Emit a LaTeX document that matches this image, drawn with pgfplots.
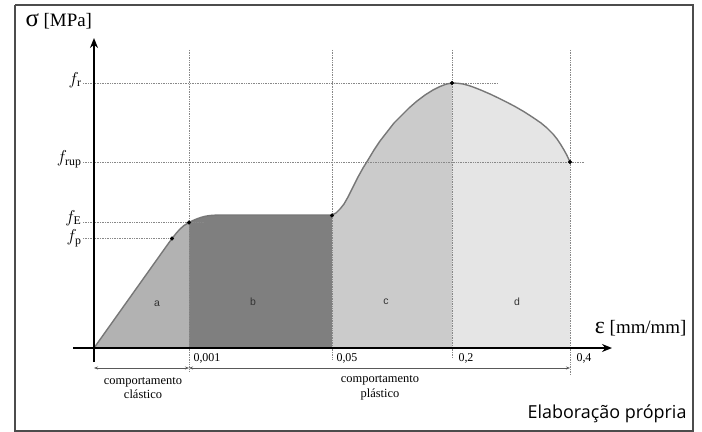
\documentclass[border=0pt]{standalone}
\usepackage{pgfplots}
\pgfplotsset{compat=1.18}
\usepackage{fontspec}
\setmainfont{Liberation Serif}
\newfontfamily\opensans{Open Sans}
\newfontfamily\lsans{Liberation Sans}
\usetikzlibrary{arrows.meta}
\definecolor{ca}{HTML}{B2B2B2}
\definecolor{cb}{HTML}{7F7F7F}
\definecolor{cc}{HTML}{CBCBCB}
\definecolor{cd}{HTML}{E5E5E5}
\definecolor{curve}{HTML}{777777}
\definecolor{dotc}{HTML}{888888}
\begin{document}
\begin{tikzpicture}
\begin{axis}[
  scale only axis, width=702bp, height=432bp,
  xmin=0, xmax=702, ymin=0, ymax=432, y dir=reverse,
  hide axis, clip=false,
]
\path (axis cs:0,0) rectangle (axis cs:702,432);
% frame
\addplot[draw=black!70, line width=1.5bp] coordinates {(15,5) (693,5) (693,431) (15,431) (15,5)};
% fills
\addplot[fill=ca, draw=none] coordinates {(94,348) (168,244) (172,238.5) (176,233.5) (180,229) (184,225.5) (189,222.5) (189,348)} --cycle;
\addplot[fill=cb, draw=none] coordinates {(189,222.5) (193,220.5) (197,218.8) (201,217.4) (205,216.3) (210,215.5) (216,215.1) (222,215) (332,215) (332,348) (189,348)} --cycle;
\addplot[fill=cc, draw=none] coordinates {(332,215) (336,213) (340,209) (344,204) (348,197) (353,187) (358,177) (363,168) (368,160) (374,150) (380,141) (387,132) (394,123) (401,116) (409,108) (417,101) (425,95) (433,90) (440,86.5) (446,84.2) (452,83) (452,348) (332,348)} --cycle;
\addplot[fill=cd, draw=none] coordinates {(452,83) (458,83.3) (463,84) (468,85.3) (473,87) (480,89.7) (490,94) (499,98.3) (507,102.3) (515,106.5) (524,111.7) (533,117.5) (541,123) (547,128) (553,134) (557,139) (561,145) (564,150) (567,155.5) (570,162) (570,348) (452,348)} --cycle;
% dotted guide lines
\addplot[dotc, densely dotted, line width=0.7bp] coordinates {(83,83) (497,83)};
\addplot[dotc, densely dotted, line width=0.7bp] coordinates {(83,162) (585,162)};
\addplot[dotc, densely dotted, line width=0.7bp] coordinates {(83,222.5) (205,222.5)};
\addplot[dotc, densely dotted, line width=0.7bp] coordinates {(83,238.5) (172,238.5)};
\addplot[dotc, densely dotted, line width=0.7bp] coordinates {(189,50) (189,372)};
\addplot[dotc, densely dotted, line width=0.7bp] coordinates {(332,50) (332,360)};
\addplot[dotc, densely dotted, line width=0.7bp] coordinates {(452,50) (452,358)};
\addplot[dotc, densely dotted, line width=0.7bp] coordinates {(570,50) (570,375)};
% curve
\addplot[curve, line width=1.4bp, line join=round] coordinates {(94,348) (168,244) (172,238.5) (176,233.5) (180,229) (184,225.5) (189,222.5) (193,220.5) (197,218.8) (201,217.4) (205,216.3) (210,215.5) (216,215.1) (222,215) (332,215) (336,213) (340,209) (344,204) (348,197) (353,187) (358,177) (363,168) (368,160) (374,150) (380,141) (387,132) (394,123) (401,116) (409,108) (417,101) (425,95) (433,90) (440,86.5) (446,84.2) (452,83) (458,83.3) (463,84) (468,85.3) (473,87) (480,89.7) (490,94) (499,98.3) (507,102.3) (515,106.5) (524,111.7) (533,117.5) (541,123) (547,128) (553,134) (557,139) (561,145) (564,150) (567,155.5) (570,162)};
\addplot[only marks, mark=*, mark size=1.8bp, black] coordinates {(172,238.5) (189,222.5) (332,215.5) (452,83) (570,162)};
% axes
\addplot[black, line width=2.3bp, -{Stealth[length=10bp,width=8bp]}] coordinates {(94,362) (94,38)};
\addplot[black, line width=2.3bp, -{Stealth[length=10bp,width=8bp]}] coordinates {(73,348) (612,348)};
% dimension arrows
\addplot[black!65, line width=0.8bp, {Stealth[length=4bp,width=3bp]}-{Stealth[length=4bp,width=3bp]}] coordinates {(94,368) (189,368)};
\addplot[black!65, line width=0.8bp, {Stealth[length=4bp,width=3bp]}-{Stealth[length=4bp,width=3bp]}] coordinates {(189,368) (570,368)};
% labels
\node[anchor=base west, font=\fontsize{19}{19}\selectfont] at (axis cs:22,27) {{\fontsize{25}{25}\selectfont σ} [MPa]};
\node[anchor=base east, font=\fontsize{19}{19}\selectfont] at (axis cs:690,333) {{\fontsize{24}{24}\selectfont ε} [mm/mm]};
\node[anchor=east, font=\fontsize{17}{17}\selectfont] at (axis cs:85,80) {$f_{\mathrm{r}}$};
\node[anchor=east, font=\fontsize{17}{17}\selectfont] at (axis cs:85,159) {$f_{\mathrm{rup}}$};
\node[anchor=east, font=\fontsize{17}{17}\selectfont] at (axis cs:85,218) {$f_{\mathrm{E}}$};
\node[anchor=east, font=\fontsize{17}{17}\selectfont] at (axis cs:85,238) {$f_{\mathrm{p}}$};
\node[anchor=west, font=\fontsize{12}{12}\selectfont] at (axis cs:190,358) {0,001};
\node[anchor=west, font=\fontsize{12}{12}\selectfont] at (axis cs:333,358) {0,05};
\node[anchor=west, font=\fontsize{12}{12}\selectfont] at (axis cs:455,358) {0,2};
\node[anchor=west, font=\fontsize{12}{12}\selectfont] at (axis cs:573,358) {0,4};
\node[font=\lsans\fontsize{10.5}{10.5}\selectfont, text=black!80] at (axis cs:157,304) {a};
\node[font=\lsans\fontsize{10.5}{10.5}\selectfont, text=black!80] at (axis cs:253,302) {b};
\node[font=\lsans\fontsize{10.5}{10.5}\selectfont, text=black!80] at (axis cs:386,302) {c};
\node[font=\lsans\fontsize{10.5}{10.5}\selectfont, text=black!80] at (axis cs:517,302) {d};
\node[align=center, font=\fontsize{12.5}{14.5}\selectfont] at (axis cs:143,388) {comportamento\\clástico};
\node[align=center, font=\fontsize{12.5}{14.5}\selectfont] at (axis cs:380,388) {comportamento\\plástico};
\node[anchor=east, font=\opensans\fontsize{18}{18}\selectfont] at (axis cs:690,414) {Elaboração própria};
\end{axis}
\end{tikzpicture}
\end{document}
